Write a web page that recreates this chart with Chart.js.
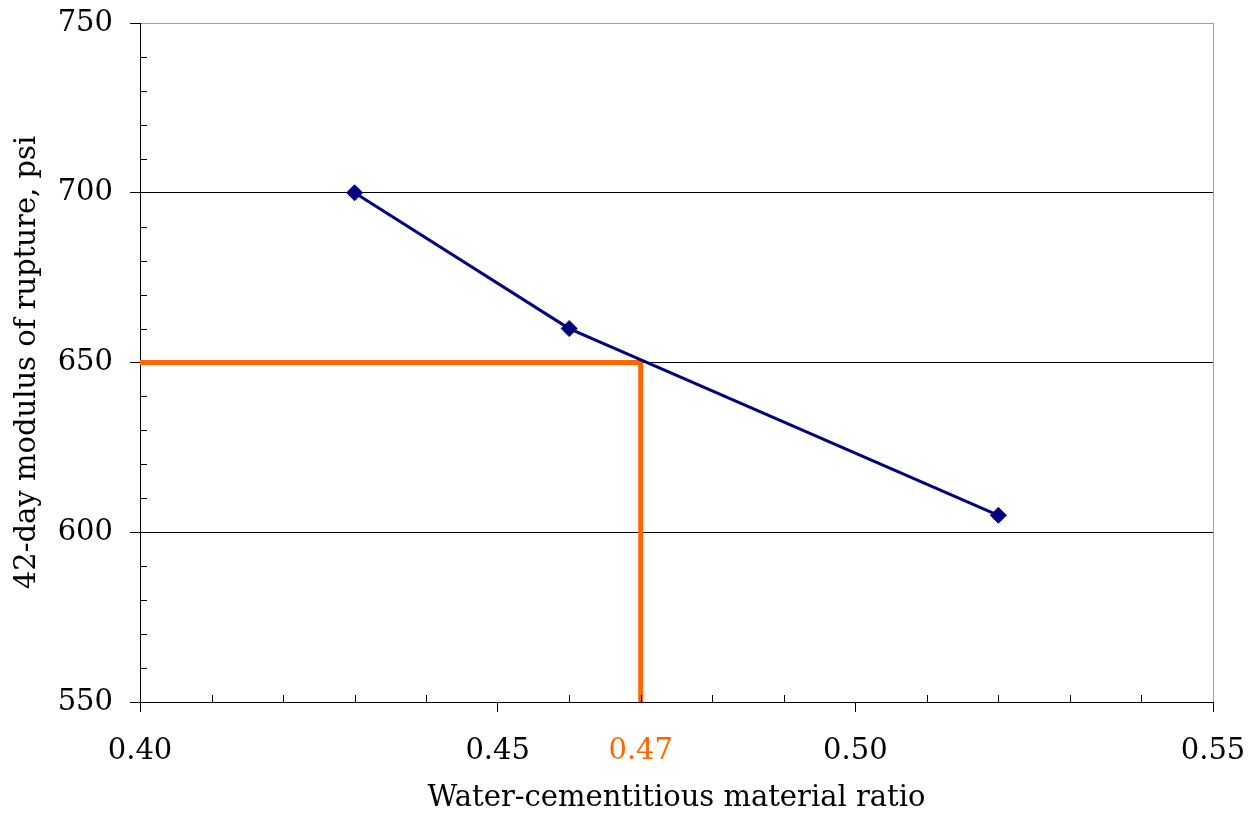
<!DOCTYPE html>
<html>
<head>
<meta charset="utf-8">
<script src="https://cdn.jsdelivr.net/npm/chart.js@4"></script>
<style>
  html, body { margin: 0; padding: 0; background: #fff; }
  #wrap { width: 1259px; height: 816px; }
</style>
</head>
<body>
<div id="wrap"><canvas id="chart" width="1259" height="816"></canvas></div>
<script>
// Data
const wcRatio = [0.43, 0.46, 0.52];
const modulus = [700, 660, 605];

// Orange guide line for the 650 psi target
const targetX = [0.40, 0.47, 0.47];
const targetY = [650, 650, 550];

const xLabels = [0.40, 0.45, 0.47, 0.50, 0.55];
const yLabels = [550, 600, 650, 700, 750];
const highlightX = 0.47;

const ORANGE = "#ff6600";
const NAVY = "#000080";
const FONT = "'DejaVu Serif', 'Liberation Serif', serif";

const hundredths = (v) => Math.round(v * 100);
const isXLabel = (v) => xLabels.some((l) => hundredths(l) === hundredths(v));
const isXMajor = (v) => hundredths(v) % 5 === 0;
const isYMajor = (v) => Math.round(v) % 50 === 0;

// Draw the short inward minor ticks Excel-style
const minorTicks = {
  id: "minorTicks",
  afterDraw(chart) {
    const ctx = chart.ctx;
    const x = chart.scales.x;
    const y = chart.scales.y;
    ctx.save();
    ctx.strokeStyle = "#000";
    ctx.lineWidth = 1;
    ctx.beginPath();
    x.ticks.forEach((t) => {
      if (isXMajor(t.value)) return;
      const px = Math.round(x.getPixelForValue(t.value)) + 0.5;
      ctx.moveTo(px, y.bottom);
      ctx.lineTo(px, y.bottom - 7);
    });
    y.ticks.forEach((t) => {
      if (isYMajor(t.value)) return;
      const py = Math.round(y.getPixelForValue(t.value)) + 0.5;
      ctx.moveTo(x.left, py);
      ctx.lineTo(x.left + 7, py);
    });
    ctx.stroke();
    ctx.restore();
  },
};

new Chart(document.querySelector("#chart").getContext("2d"), {
  type: "scatter",
  data: {
    datasets: [
      {
        label: "MOR",
        data: wcRatio.map((v, i) => ({ x: v, y: modulus[i] })),
        showLine: true,
        borderColor: NAVY,
        borderWidth: 3,
        pointStyle: "rectRot",
        pointRadius: 8,
        pointBackgroundColor: NAVY,
        pointBorderColor: NAVY,
        pointBorderWidth: 1,
        order: 0,
      },
      {
        label: "target",
        data: targetX.map((v, i) => ({ x: v, y: targetY[i] })),
        showLine: true,
        borderColor: ORANGE,
        borderWidth: 5,
        pointRadius: 0,
        borderCapStyle: "butt",
        borderJoinStyle: "miter",
        order: 1,
      },
    ],
  },
  options: {
    responsive: false,
    animation: false,
    layout: { padding: { top: 23, right: 46, left: 0, bottom: 0 } },
    plugins: {
      legend: { display: false },
      tooltip: { enabled: false },
    },
    scales: {
      x: {
        type: "linear",
        min: 0.40,
        max: 0.55,
        afterFit: (scale) => {
          scale.height = 114;
          scale.paddingLeft = 0;
          scale.paddingRight = 0;
        },
        ticks: {
          stepSize: 0.01,
          autoSkip: false,
          maxRotation: 0,
          padding: 22,
          font: { family: FONT, size: 29 },
          color: (c) => hundredths(c.tick.value) === hundredths(highlightX) ? ORANGE : "#000",
          callback: (v) => (isXLabel(v) ? v.toFixed(2) : ""),
        },
        grid: {
          drawOnChartArea: true,
          tickLength: 10,
          color: (c) => hundredths(c.tick.value) === 55 ? "#a0a0a0" : "rgba(0,0,0,0)",
          tickColor: (c) => isXMajor(c.tick.value) ? "#000" : "rgba(0,0,0,0)",
        },
        border: { color: "#000", width: 1 },
        title: {
          display: true,
          text: "Water-cementitious material ratio",
          color: "#000",
          font: { family: FONT, size: 29 },
          padding: { top: 0, bottom: 0 },
        },
      },
      y: {
        type: "linear",
        min: 550,
        max: 750,
        afterFit: (scale) => {
          scale.width = 140;
          scale.paddingTop = 0;
          scale.paddingBottom = 0;
        },
        ticks: {
          stepSize: 10,
          autoSkip: false,
          padding: 17,
          font: { family: FONT, size: 29 },
          color: "#000",
          callback: (v) => (yLabels.includes(Math.round(v)) ? String(Math.round(v)) : ""),
        },
        grid: {
          tickLength: 10,
          color: (c) => {
            const v = Math.round(c.tick.value);
            if (v === 750) return "#a0a0a0";
            return isYMajor(v) ? "#000" : "rgba(0,0,0,0)";
          },
          tickColor: (c) => isYMajor(c.tick.value) ? "#000" : "rgba(0,0,0,0)",
        },
        border: { color: "#000", width: 1 },
        title: {
          display: true,
          text: "42-day modulus of rupture, psi",
          color: "#000",
          font: { family: FONT, size: 29 },
          padding: { top: 10, bottom: 0 },
        },
      },
    },
  },
  plugins: [minorTicks],
});
</script>
</body>
</html>
